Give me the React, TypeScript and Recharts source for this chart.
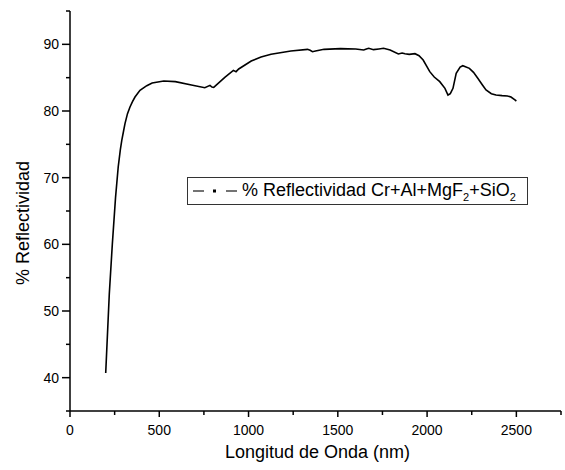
import React from "react";
import { Legend, Line, LineChart, XAxis, YAxis } from "recharts";

// wavelength (nm) and reflectance (%)
const wavelength = [
  200, 220, 237, 255, 270, 282, 290, 300, 308, 322, 336, 350, 364, 392, 430,
  460, 525, 590, 680, 755, 784, 795, 805, 867, 915, 930, 945, 1015, 1070,
  1126, 1237, 1330, 1345, 1358, 1375, 1423, 1515, 1600, 1645, 1660, 1673,
  1700, 1730, 1756, 1793, 1839, 1860, 1876, 1900, 1932, 1955, 1978, 2015,
  2040, 2071, 2100, 2117, 2130, 2145, 2163, 2185, 2200, 2237, 2260, 2284,
  2310, 2330, 2360, 2386, 2420, 2450, 2470, 2490, 2500,
];
const reflectance = [
  40.7, 52.5, 60.0, 67.0, 71.6, 74.2, 75.6, 77.0, 78.1, 79.6, 80.6, 81.4,
  82.1, 83.1, 83.8, 84.2, 84.5, 84.4, 83.9, 83.5, 83.85, 83.6, 83.55, 85.05,
  86.1, 85.9, 86.3, 87.5, 88.1, 88.5, 89.0, 89.25, 89.1, 88.9, 89.0, 89.25,
  89.35, 89.3, 89.15, 89.3, 89.4, 89.2, 89.3, 89.4, 89.15, 88.55, 88.7, 88.6,
  88.5, 88.6, 88.3, 87.65, 85.9, 85.1, 84.4, 83.4, 82.4, 82.6, 83.4, 85.65,
  86.6, 86.8, 86.4, 85.8, 84.9, 83.9, 83.15, 82.6, 82.4, 82.3, 82.25, 82.1,
  81.7, 81.5,
];
const xTicks = [0, 250, 500, 750, 1000, 1250, 1500, 1750, 2000, 2250, 2500, 2750];
const yTicks = [35, 40, 45, 50, 55, 60, 65, 70, 75, 80, 85, 90, 95];

const data = wavelength.map((w, i) => ({ w, r: reflectance[i] }));

const FONT = "'Liberation Sans', Arial, sans-serif";

const XTick = ({ x, y, payload }: any) => {
  const major = payload.value % 500 === 0;
  return (
    <g>
      <line x1={x} x2={x} y1={y} y2={y + (major ? 6 : 4)} stroke="#000" strokeWidth={1.5} />
      {major && (
        <text x={x} y={y + 24} textAnchor="middle" fontSize={14} fontFamily={FONT} fill="#000">
          {payload.value}
        </text>
      )}
    </g>
  );
};

const YTick = ({ x, y, payload }: any) => {
  const major = payload.value % 10 === 0;
  return (
    <g>
      <line x1={x - (major ? 8 : 4)} x2={x} y1={y} y2={y} stroke="#000" strokeWidth={1.5} />
      {major && (
        <text x={x - 11} y={y + 5} textAnchor="end" fontSize={14} fontFamily={FONT} fill="#000">
          {payload.value}
        </text>
      )}
    </g>
  );
};

const LegendBox = () => (
  <div
    style={{
      border: "1px solid #333",
      width: 341,
      height: 28,
      boxSizing: "border-box",
      display: "flex",
      alignItems: "center",
      fontFamily: FONT,
      fontSize: 18,
      color: "#000",
      whiteSpace: "nowrap",
    }}
  >
    <svg width={52} height={20} style={{ marginLeft: 2 }}>
      <line x1={3} x2={14} y1={10} y2={10} stroke="#444" strokeWidth={1.5} />
      <rect x={23} y={8.5} width={3} height={3} fill="#000" />
      <line x1={36} x2={47} y1={10} y2={10} stroke="#444" strokeWidth={1.5} />
    </svg>
    <span>
      % Reflectividad Cr+Al+MgF<sub style={{ fontSize: 11 }}>2</sub>+SiO<sub style={{ fontSize: 11 }}>2</sub>
    </span>
  </div>
);

export default function App() {
  return (
    <div style={{ position: "absolute", left: 0, top: 0, background: "#fff" }}>
      <LineChart
        width={565}
        height={470}
        data={data}
        margin={{ top: 11, right: 4, left: 0, bottom: 0 }}
      >
        <XAxis
          dataKey="w"
          type="number"
          domain={[0, 2750]}
          ticks={xTicks}
          interval={0}
          tickSize={0}
          tickMargin={0}
          tick={<XTick />}
          height={59}
          axisLine={{ stroke: "#000", strokeWidth: 1.5 }}
          label={({ viewBox }: any) => (
            <text
              x={viewBox.x + viewBox.width / 2 + 2}
              y={viewBox.y + 47}
              textAnchor="middle"
              fontSize={18}
              fontFamily={FONT}
              fill="#000"
            >
              Longitud de Onda (nm)
            </text>
          )}
        />
        <YAxis
          type="number"
          domain={[35, 95]}
          ticks={yTicks}
          interval={0}
          tickSize={0}
          tickMargin={0}
          tick={<YTick />}
          width={70}
          axisLine={{ stroke: "#000", strokeWidth: 1.5 }}
          label={({ viewBox }: any) => (
            <text
              x={0}
              y={0}
              transform={`translate(${viewBox.x + 29}, ${viewBox.y + viewBox.height / 2 + 12}) rotate(-90)`}
              textAnchor="middle"
              fontSize={18}
              fontFamily={FONT}
              fill="#000"
            >
              % Reflectividad
            </text>
          )}
        />
        <Legend
          layout="vertical"
          align="center"
          verticalAlign="middle"
          content={<LegendBox />}
          wrapperStyle={{ position: "absolute", left: 187, top: 177, width: 341 }}
        />
        <Line
          dataKey="r"
          type="linear"
          stroke="#000"
          strokeWidth={1.6}
          dot={false}
          isAnimationActive={false}
          legendType="none"
        />
      </LineChart>
    </div>
  );
}
